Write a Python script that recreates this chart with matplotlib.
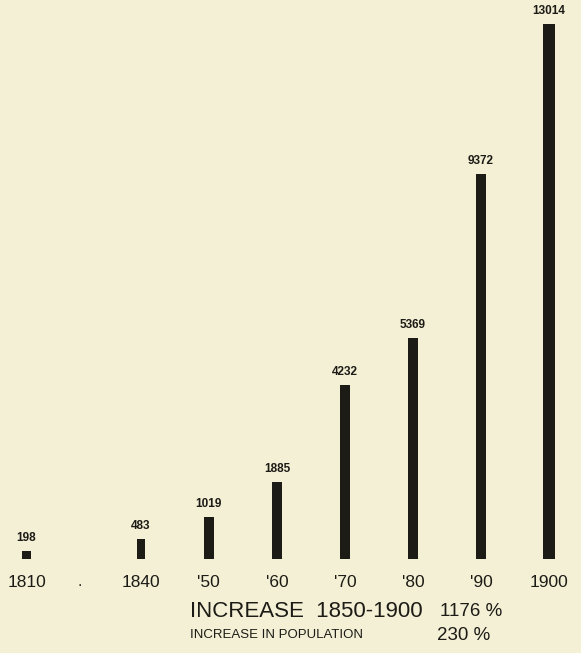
import matplotlib.pyplot as plt

# data
years = ['1810', '1840', "'50", "'60", "'70", "'80", "'90", '1900']
values = [198, 483, 1019, 1885, 4232, 5369, 9372, 13014]
# 1810 sits apart from the rest (gap in the series)
xpos = [-1.68, 0, 1, 2, 3, 4, 5, 6]
line1 = ['INCREASE  1850-1900', '1176 %']
line2 = ['INCREASE IN POPULATION', '230 %']

bg = '#f4f0d6'
ink = '#1c1b15'
fnt = ['Liberation Sans', 'DejaVu Sans']

fig = plt.figure(figsize=(5.81, 6.53), dpi=100, facecolor=bg)
ax = fig.add_axes([0, 0, 1, 1])
ax.set_facecolor(bg)
ax.set_xlim(-2.07, 6.47)
ax.set_ylim(-2287, 13601)
ax.axis('off')

widths = [0.12, 0.12, 0.15, 0.15, 0.15, 0.16, 0.16, 0.17]
ax.bar(xpos, values, width=widths, color=ink, align='center')

for x, v in zip(xpos, values):
    ax.text(x, v + 170, str(v), ha='center', va='bottom', fontsize=8.5,
            fontweight='bold', color=ink, family=fnt)

for x, y in zip(xpos, years):
    ax.text(x, -580, y, ha='center', va='center', fontsize=12.5,
            color=ink, family=fnt)
ax.text(-0.9, -560, '.', ha='center', va='center', fontsize=10, color=ink)

ax.text(0.72, -1270, line1[0], ha='left', va='center', fontsize=16,
        color=ink, family=fnt)
ax.text(4.40, -1270, line1[1], ha='left', va='center', fontsize=13.5,
        color=ink, family=fnt)
ax.text(0.72, -1850, line2[0], ha='left', va='center', fontsize=9.5,
        color=ink, family=fnt)
ax.text(4.36, -1850, line2[1], ha='left', va='center', fontsize=13.5,
        color=ink, family=fnt)

fig.savefig('out.png', dpi=100, facecolor=bg)
